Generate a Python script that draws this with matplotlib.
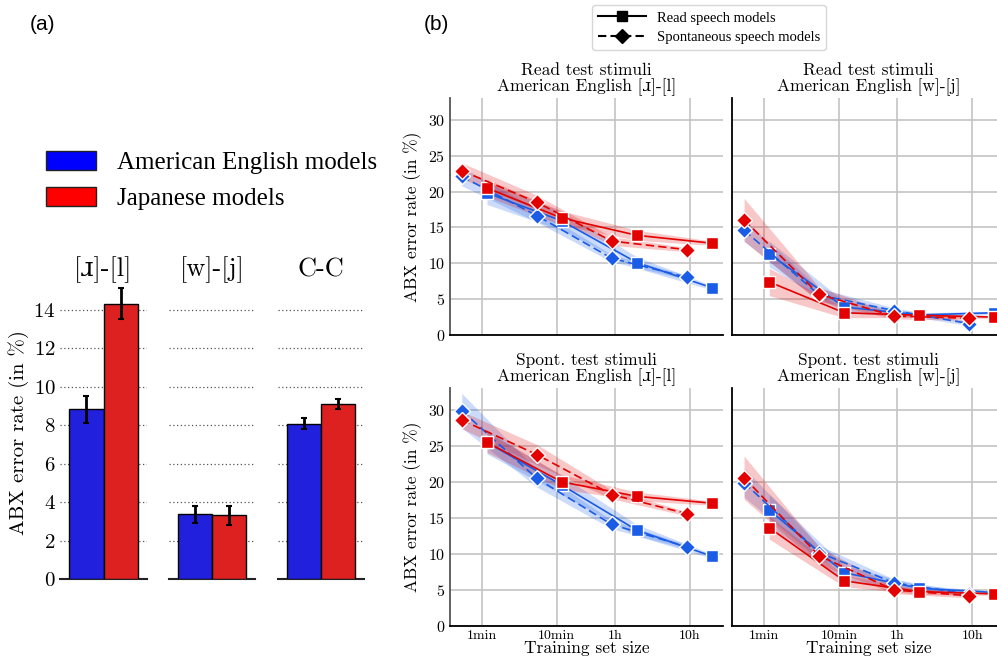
import matplotlib
matplotlib.use('Agg')
import matplotlib.pyplot as plt
from matplotlib.lines import Line2D
from matplotlib.patches import Patch
import numpy as np

plt.rcParams['font.family'] = ['cmr10', 'DejaVu Serif']
plt.rcParams['axes.formatter.use_mathtext'] = True
plt.rcParams['mathtext.fontset'] = 'cm'

# ---------------- Panel (a) data ----------------
contrasts = ['[ɹ]-[l]', '[w]-[j]', 'C-C']
ae_rate = [8.84, 3.38, 8.09]
ae_ci = [0.70, 0.45, 0.27]
jp_rate = [14.32, 3.33, 9.09]
jp_ci = [0.80, 0.50, 0.26]
a_yticks = [0, 2, 4, 6, 8, 10, 12, 14]

# ---------------- Panel (b) data ----------------
read_sizes_min = [1.17, 11.7, 117, 1170]
spont_sizes_min = [0.54, 5.4, 54, 540]
size_ticks = [1, 10, 60, 600]
size_labels = ['1min', '10min', '1h', '10h']
b_yticks = [0, 5, 10, 15, 20, 25, 30]

panel_titles = ['Read test stimuli\nAmerican English [ɹ]-[l]',
                'Read test stimuli\nAmerican English [w]-[j]',
                'Spont. test stimuli\nAmerican English [ɹ]-[l]',
                'Spont. test stimuli\nAmerican English [w]-[j]']

# top-left: read test, [ɹ]-[l]
tl_ae_read = [19.8, 15.9, 10.1, 6.6]
tl_ae_spont = [22.1, 16.65, 10.7, 8.05]
tl_jp_read = [20.5, 16.3, 13.9, 12.8]
tl_jp_spont = [22.9, 18.5, 13.1, 11.9]
tl_ae_read_ci = [1.6, 1.3, 0.8, 0.3]
tl_ae_spont_ci = [1.3, 0.9, 0.5, 0.3]
tl_jp_read_ci = [1.2, 1.0, 0.7, 0.3]
tl_jp_spont_ci = [1.1, 1.0, 0.6, 0.3]

# top-right: read test, [w]-[j]
tr_ae_read = [11.3, 3.9, 2.8, 3.1]
tr_ae_spont = [14.6, 5.6, 3.4, 1.6]
tr_jp_read = [7.4, 3.1, 2.75, 2.5]
tr_jp_spont = [16.05, 5.67, 2.65, 2.33]
tr_ae_read_ci = [1.8, 0.8, 0.3, 0.2]
tr_ae_spont_ci = [1.5, 0.9, 0.4, 0.3]
tr_jp_read_ci = [1.9, 0.7, 0.3, 0.2]
tr_jp_spont_ci = [3.0, 1.0, 0.4, 0.3]

# bottom-left: spontaneous test, [ɹ]-[l]
bl_ae_read = [25.5, 19.55, 13.3, 9.7]
bl_ae_spont = [29.9, 20.5, 14.1, 11.0]
bl_jp_read = [25.5, 20.0, 18.0, 17.05]
bl_jp_spont = [28.6, 23.8, 18.25, 15.6]
bl_ae_read_ci = [1.6, 1.3, 0.8, 0.3]
bl_ae_spont_ci = [2.4, 1.2, 0.6, 0.3]
bl_jp_read_ci = [1.4, 1.0, 0.6, 0.3]
bl_jp_spont_ci = [1.2, 1.4, 0.6, 0.3]

# bottom-right: spontaneous test, [w]-[j]
br_ae_read = [16.1, 7.4, 5.25, 4.65]
br_ae_spont = [19.9, 10.2, 6.0, 4.4]
br_jp_read = [13.65, 6.27, 4.78, 4.46]
br_jp_spont = [20.6, 9.75, 5.0, 4.2]
br_ae_read_ci = [2.2, 1.0, 0.4, 0.2]
br_ae_spont_ci = [2.0, 1.0, 0.5, 0.3]
br_jp_read_ci = [1.6, 0.8, 0.4, 0.2]
br_jp_spont_ci = [3.0, 1.2, 0.5, 0.3]

panels = [
    (tl_ae_read, tl_ae_read_ci, tl_ae_spont, tl_ae_spont_ci, tl_jp_read, tl_jp_read_ci, tl_jp_spont, tl_jp_spont_ci),
    (tr_ae_read, tr_ae_read_ci, tr_ae_spont, tr_ae_spont_ci, tr_jp_read, tr_jp_read_ci, tr_jp_spont, tr_jp_spont_ci),
    (bl_ae_read, bl_ae_read_ci, bl_ae_spont, bl_ae_spont_ci, bl_jp_read, bl_jp_read_ci, bl_jp_spont, bl_jp_spont_ci),
    (br_ae_read, br_ae_read_ci, br_ae_spont, br_ae_spont_ci, br_jp_read, br_jp_read_ci, br_jp_spont, br_jp_spont_ci),
]

W, H = 997, 658
fig = plt.figure(figsize=(W / 100, H / 100), dpi=100)

BAR_BLUE = '#2121dd'
BAR_RED = '#dd2121'
LINE_BLUE = '#1a5ce6'
LINE_RED = '#e30000'

def px_axes(x0, x1, ytop, ybot):
    return fig.add_axes([x0 / W, 1 - ybot / H, (x1 - x0) / W, (ybot - ytop) / H])

# ---------------- Panel (a) ----------------
a_xs = [(60, 147), (169, 255), (278, 364)]
a_ylim = 15.3
a_ybot = 579.3
a_ytop = a_ybot - a_ylim * 19.24
for i, (x0, x1) in enumerate(a_xs):
    ax = px_axes(x0, x1, a_ytop, a_ybot)
    ax.bar([-0.2], [ae_rate[i]], width=0.4, color=BAR_BLUE, edgecolor='black', linewidth=1.0, zorder=3)
    ax.bar([0.2], [jp_rate[i]], width=0.4, color=BAR_RED, edgecolor='black', linewidth=1.0, zorder=3)
    ax.errorbar([-0.2], [ae_rate[i]], yerr=[ae_ci[i]], fmt='none', ecolor='black', elinewidth=2, capsize=2.5, capthick=1.5, zorder=4)
    ax.errorbar([0.2], [jp_rate[i]], yerr=[jp_ci[i]], fmt='none', ecolor='black', elinewidth=2, capsize=2.5, capthick=1.5, zorder=4)
    ax.set_xlim(-0.5, 0.5)
    ax.set_ylim(0, a_ylim)
    ax.set_yticks(a_yticks)
    for v in a_yticks[1:]:
        ax.axhline(v, color='#555555', linestyle=(0, (1, 2)), linewidth=0.9, zorder=1)
    ax.set_xticks([])
    for s in ['top', 'right', 'left']:
        ax.spines[s].set_visible(False)
    ax.spines['bottom'].set_color('#222222')
    ax.spines['bottom'].set_linewidth(1.5)
    ax.tick_params(axis='y', length=0, labelsize=15, pad=3)
    ax.set_title(contrasts[i], fontsize=19, pad=6)
    if i == 0:
        ax.set_ylabel('ABX error rate (in %)', fontsize=15, labelpad=3)
    else:
        ax.set_yticklabels([])

fig.legend(handles=[Patch(facecolor='#0000ff', edgecolor='#222222', label='American English models'),
                    Patch(facecolor='#ff0000', edgecolor='#222222', label='Japanese models')],
           loc='upper left', bbox_to_anchor=(46 / W, 1 - 151 / H), frameon=False,
           prop={'family': 'Liberation Serif', 'size': 18}, handlelength=2.0, handleheight=0.8,
           handletextpad=0.85, labelspacing=0.5, borderpad=0, borderaxespad=0)

fig.text(42 / W, 1 - 25 / H, '(a)', family='Liberation Sans', fontsize=15, ha='center', va='center')
fig.text(436 / W, 1 - 25 / H, '(b)', family='Liberation Sans', fontsize=15, ha='center', va='center')

# ---------------- Panel (b) ----------------
b_cols = [(450, 723), (732.3, 1005.3)]
b_rows = [(98.3, 335), (388.3, 626)]
xlim = (0.376, 1650)

for k, data in enumerate(panels):
    r, c = divmod(k, 2)
    ax = px_axes(b_cols[c][0], b_cols[c][1], b_rows[r][0], b_rows[r][1])
    ax.set_xscale('log')
    ae_read, ae_read_ci, ae_spont, ae_spont_ci, jp_read, jp_read_ci, jp_spont, jp_spont_ci = data
    series = [
        (read_sizes_min, ae_read, ae_read_ci, LINE_BLUE, '-', 's'),
        (spont_sizes_min, ae_spont, ae_spont_ci, LINE_BLUE, (0, (5, 2.5)), 'D'),
        (read_sizes_min, jp_read, jp_read_ci, LINE_RED, '-', 's'),
        (spont_sizes_min, jp_spont, jp_spont_ci, LINE_RED, (0, (5, 2.5)), 'D'),
    ]
    for xs, ys, ci, col, ls, mk in series:
        ys = np.array(ys)
        ci = np.array(ci)
        ax.fill_between(xs, ys - ci, ys + ci, color=col, alpha=0.22, linewidth=0, zorder=2)
    for xs, ys, ci, col, ls, mk in series:
        ax.plot(xs, ys, color=col, linestyle=ls, linewidth=1.2, marker=mk,
                markersize=8.5 if mk == 's' else 8, markerfacecolor=col,
                markeredgecolor='white', markeredgewidth=1.0, zorder=4, clip_on=True)
    ax.set_xlim(*xlim)
    ax.set_ylim(0, 33)
    ax.set_xticks(size_ticks)
    ax.set_xticklabels(size_labels)
    ax.xaxis.set_minor_locator(matplotlib.ticker.NullLocator())
    ax.set_yticks(b_yticks)
    ax.grid(True, color='#c4c4c4', linewidth=1.2, zorder=0)
    ax.set_axisbelow(True)
    ax.tick_params(length=0, labelsize=11.5)
    ax.tick_params(axis='x', labelsize=10, pad=3)
    for s in ['top', 'right']:
        ax.spines[s].set_visible(False)
    ax.spines['left'].set_color('#555555' if c == 0 else 'black')
    ax.spines['left'].set_linewidth(1.3)
    ax.spines['bottom'].set_color('black')
    ax.spines['bottom'].set_linewidth(1.3)
    ax.set_title(panel_titles[k], fontsize=12.5, pad=5, linespacing=1.05)
    if c == 0:
        ax.set_ylabel('ABX error rate (in %)', fontsize=12.5, labelpad=4)
    else:
        ax.set_yticklabels([])
    if r == 0:
        ax.set_xticklabels([])
    else:
        ax.set_xlabel('Training set size', fontsize=12.5, labelpad=-1)

leg_handles = [Line2D([], [], color='black', linestyle='-', linewidth=1.5, marker='s', markersize=7, label='Read speech models'),
               Line2D([], [], color='black', linestyle=(0, (4, 2)), linewidth=1.5, marker='D', markersize=7, label='Spontaneous speech models')]
fig.legend(handles=leg_handles, loc='center', bbox_to_anchor=(709 / W, 1 - 27.5 / H),
           prop={'family': 'Liberation Serif', 'size': 10.5}, handlelength=3.3, handletextpad=0.7,
           labelspacing=0.4, frameon=True, fancybox=True, edgecolor='#cccccc', borderpad=0.45)

fig.savefig('out.png', dpi=100)
